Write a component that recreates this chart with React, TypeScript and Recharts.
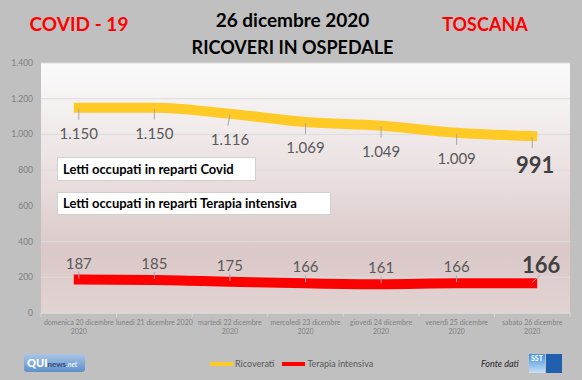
import { LineChart, Line, XAxis, YAxis, CartesianGrid, LabelList } from 'recharts';

const dates = [
  'domenica 20 dicembre 2020',
  'lunedì 21 dicembre 2020',
  'martedì 22 dicembre 2020',
  'mercoledì 23 dicembre 2020',
  'giovedì 24 dicembre 2020',
  'venerdì 25 dicembre 2020',
  'sabato 26 dicembre 2020',
];
// how the tick labels wrap in the reference
const dateLines = [
  ['domenica 20 dicembre', '2020'],
  ['lunedì 21 dicembre 2020'],
  ['martedì 22 dicembre', '2020'],
  ['mercoledì 23 dicembre', '2020'],
  ['giovedì 24 dicembre', '2020'],
  ['venerdì 25 dicembre', '2020'],
  ['sabato 26 dicembre', '2020'],
];
const ricoverati = [1150, 1150, 1116, 1069, 1049, 1009, 991];
const terapiaIntensiva = [187, 185, 175, 166, 161, 166, 166];
const yTicks = [0, 200, 400, 600, 800, 1000, 1200, 1400];

const seriesNames = ['Ricoverati', 'Terapia intensiva'];
const seriesColors = ['#ffc926', '#ff0000'];

const data = dates.map((d, i) => ({
  date: d,
  ricoverati: ricoverati[i],
  terapia: terapiaIntensiva[i],
}));

const FONT = 'Lato, "Open Sans", sans-serif';
const fmt = (v: number) => String(v).replace(/\B(?=(\d{3})+(?!\d))/g, '.');
const last = dates.length - 1;
const HALF_BAND = 529 / dates.length / 2;

const DateTick = (props: any) => {
  const { x, y, payload, index } = props;
  const lines = dateLines[index] || [payload.value];
  return (
    <g>
      <line x1={x - HALF_BAND} y1={y - 8} x2={x - HALF_BAND} y2={y - 4} stroke="#d9d9d9" />
      {index === last && (
        <line x1={x + HALF_BAND} y1={y - 8} x2={x + HALF_BAND} y2={y - 4} stroke="#d9d9d9" />
      )}
      <text textAnchor="middle" fontSize={7} fill="#808080" fontFamily={FONT}>
        {lines.map((l, i) => (
          <tspan key={i} x={x} y={y + 4 + i * 9}>
            {l}
          </tspan>
        ))}
      </text>
    </g>
  );
};

const BelowLabel = (props: any) => {
  const { x, y, value, index } = props;
  const big = index === last;
  return (
    <g>
      <line x1={x} y1={y + 1} x2={x + (index === 2 ? -2 : 0)} y2={y + 12} stroke="#a6a6a6" strokeWidth={1} />
      <text
        x={x + (big ? 3 : 0)}
        y={y + (big ? 28 : 25)}
        textAnchor="middle"
        dominantBaseline="central"
        fontSize={big ? 22 : 15}
        fontWeight={big ? 700 : 400}
        fill={big ? '#404040' : '#595959'}
        fontFamily={FONT}
      >
        {fmt(value)}
      </text>
    </g>
  );
};

const AboveLabel = (props: any) => {
  const { x, y, value, index } = props;
  const big = index === last;
  return (
    <g>
      <line x1={x} y1={y - 1} x2={x + (big ? 8 : 0)} y2={y - 8} stroke="#a6a6a6" strokeWidth={1} />
      <text
        x={x + (big ? 9 : 0)}
        y={y - (big ? 19 : 17)}
        textAnchor="middle"
        dominantBaseline="central"
        fontSize={big ? 22 : 15}
        fontWeight={big ? 700 : 400}
        fill={big ? '#404040' : '#595959'}
        fontFamily={FONT}
      >
        {value}
      </text>
    </g>
  );
};

const box = (top: number, left: number, width: number, height: number) => ({
  position: 'absolute' as const,
  top,
  left,
  width,
  height,
  background: '#ffffff',
  border: '1px solid #d0d0d0',
  boxSizing: 'border-box' as const,
  fontFamily: FONT,
  fontWeight: 700,
  fontSize: 13,
  color: '#000',
  lineHeight: `${height - 2}px`,
  paddingLeft: 5,
});

const title = (top: number, left: number, width: number, color: string, size: number) => ({
  position: 'absolute' as const,
  top,
  left,
  width,
  textAlign: 'center' as const,
  fontFamily: FONT,
  fontWeight: 700,
  fontSize: size,
  color,
  lineHeight: '20px',
});

const App = () => {
  return (
    <div
      style={{
        position: 'fixed',
        left: 0,
        top: 0,
        width: 582,
        height: 380,
        background: '#c0c0c0',
        overflow: 'hidden',
      }}
    >
      <LineChart width={582} height={380} data={data} margin={{ top: 63, right: 12, bottom: 37, left: 0 }}>
        <defs>
          <linearGradient id="plotBg" x1="0" y1="0" x2="0" y2="1">
            <stop offset="0%" stopColor="#fbfbfb" />
            <stop offset="50%" stopColor="#e8dcdc" />
            <stop offset="75%" stopColor="#dbc8c8" />
            <stop offset="100%" stopColor="#e2d3d3" />
          </linearGradient>
        </defs>
        <CartesianGrid vertical={false} stroke="#dcdcdc" fill="url(#plotBg)" fillOpacity={1} />
        <XAxis
          dataKey="date"
          interval={0}
          tick={<DateTick />}
          tickLine={false}
          axisLine={{ stroke: '#d9d9d9' }}
          padding={{ left: HALF_BAND, right: HALF_BAND }}
          height={30}
        />
        <YAxis
          domain={[0, 1400]}
          ticks={yTicks}
          tickFormatter={fmt}
          width={41}
          tickLine={false}
          axisLine={false}
          tick={{ fontSize: 8.5, fill: '#7f7f7f', fontFamily: FONT }}
        />
        <Line
          dataKey="ricoverati"
          name={seriesNames[0]}
          stroke={seriesColors[0]}
          strokeWidth={10}
          strokeLinecap="square"
          type="monotone"
          dot={false}
          isAnimationActive={false}
        >
          <LabelList dataKey="ricoverati" content={<BelowLabel />} />
        </Line>
        <Line
          dataKey="terapia"
          name={seriesNames[1]}
          stroke={seriesColors[1]}
          strokeWidth={10}
          strokeLinecap="square"
          type="monotone"
          dot={false}
          isAnimationActive={false}
        >
          <LabelList dataKey="terapia" content={<AboveLabel />} />
        </Line>
      </LineChart>

      <div style={title(14, 20, 118, '#ff0000', 19)}>COVID - 19</div>
      <div style={title(10, 190, 205, '#000000', 19)}>26 dicembre 2020</div>
      <div style={title(37, 180, 225, '#000000', 18)}>RICOVERI IN OSPEDALE</div>
      <div style={title(14, 430, 110, '#ff0000', 18)}>TOSCANA</div>

      <div style={box(157, 57, 199, 24)}>Letti occupati in reparti Covid</div>
      <div style={box(192, 57, 274, 23)}>Letti occupati in reparti Terapia intensiva</div>

      <div
        style={{
          position: 'absolute',
          top: 354,
          left: 24,
          width: 61,
          height: 18,
          borderRadius: 3,
          background: 'linear-gradient(#a9c6e8, #5f8fc8)',
          fontFamily: FONT,
          color: '#fff',
          fontSize: 11,
          fontWeight: 900,
          lineHeight: '18px',
          paddingLeft: 3,
          boxSizing: 'border-box',
          whiteSpace: 'nowrap',
          overflow: 'hidden',
        }}
      >
        QUI<span style={{ fontSize: 8, color: '#34507a', fontWeight: 700 }}>news</span>
        <span style={{ fontSize: 7, fontStyle: 'italic', fontWeight: 400 }}>.net</span>
      </div>

      <div
        style={{
          position: 'absolute',
          top: 358,
          left: 205,
          display: 'flex',
          alignItems: 'center',
          fontFamily: FONT,
          fontSize: 9,
          color: '#595959',
        }}
      >
        {seriesNames.map((n, i) => (
          <div key={n} style={{ display: 'flex', alignItems: 'center', marginLeft: i ? 8 : 5 }}>
            <div style={{ width: 23, height: 4, background: seriesColors[i] }} />
            <span style={{ marginLeft: 2 }}>{n}</span>
          </div>
        ))}
      </div>

      <div
        style={{
          position: 'absolute',
          top: 358,
          left: 481,
          fontFamily: FONT,
          fontStyle: 'italic',
          fontSize: 9,
          color: '#262626',
        }}
      >
        Fonte dati
      </div>
      <div style={{ position: 'absolute', top: 354, left: 529, display: 'flex', height: 19 }}>
        <div
          style={{
            width: 16,
            height: 19,
            background: 'linear-gradient(#3d8fe0, #c9e1f6)',
            color: '#fff',
            fontFamily: FONT,
            fontWeight: 900,
            fontSize: 7,
            textAlign: 'center',
            lineHeight: '9px',
          }}
        >
          SST
        </div>
        <div style={{ width: 16, height: 19, marginLeft: 1, background: '#1f5fae' }} />
      </div>
    </div>
  );
};

export default App;
